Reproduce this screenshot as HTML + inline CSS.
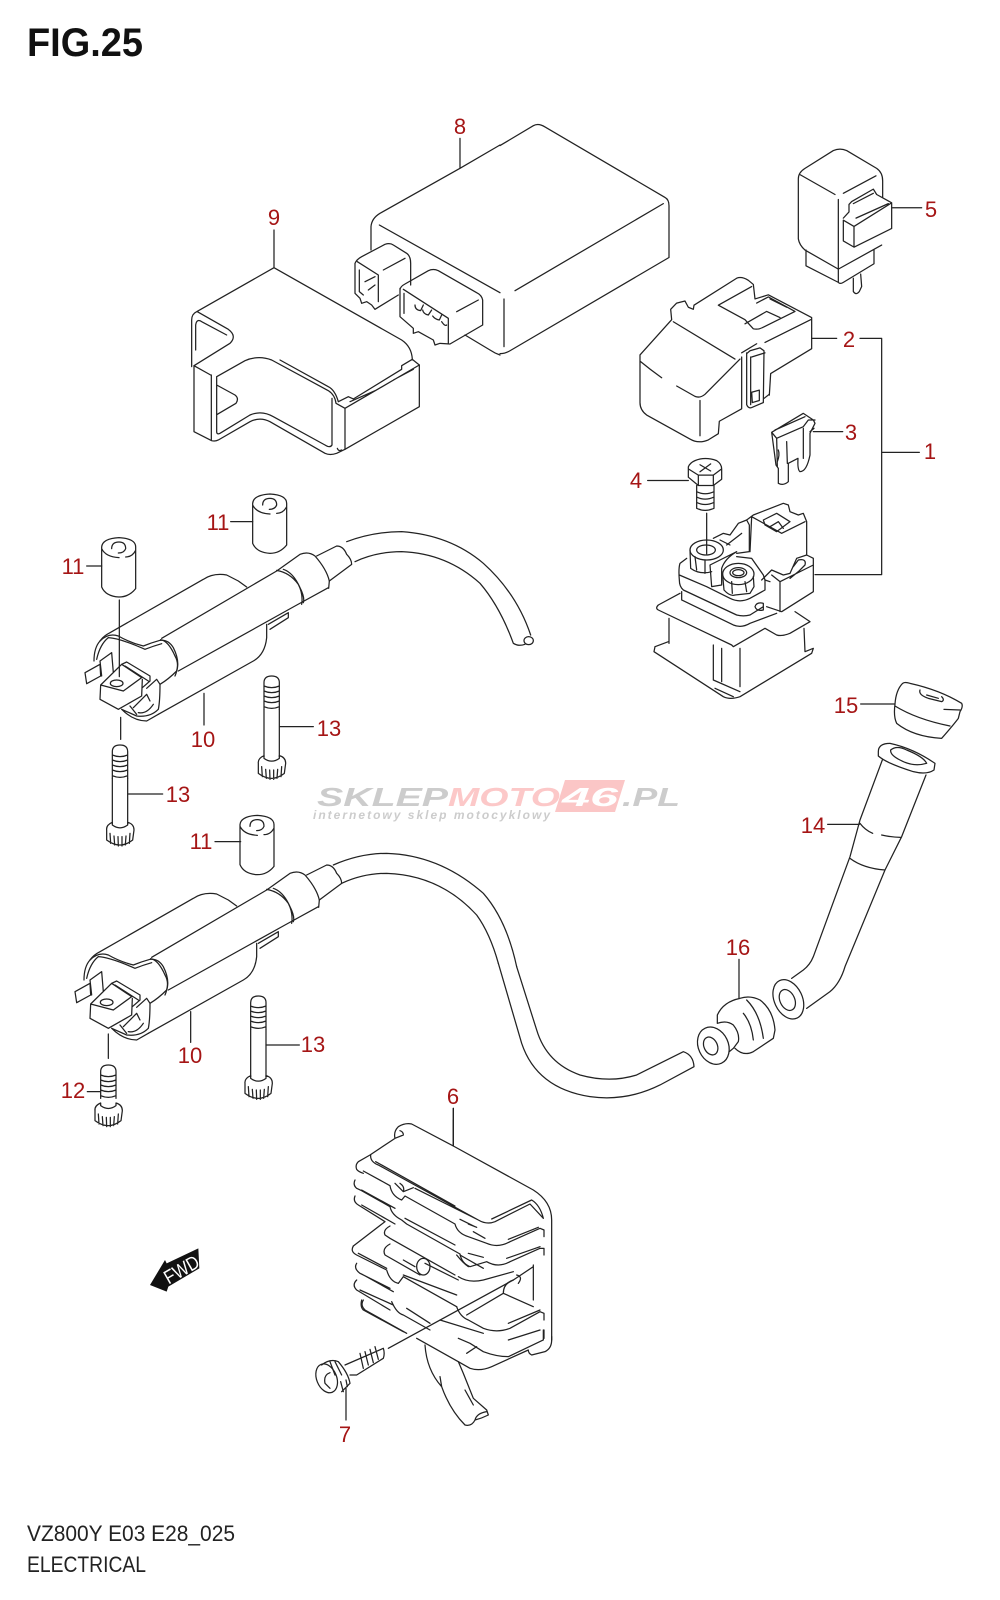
<!DOCTYPE html>
<html><head><meta charset="utf-8"><title>FIG.25</title>
<style>
html,body{margin:0;padding:0;background:#fff}
svg{display:block}
path,ellipse{fill:none;stroke:#222;stroke-width:1.25;vector-effect:non-scaling-stroke;stroke-linejoin:round;stroke-linecap:round}
.l{font:22px "Liberation Sans",sans-serif;fill:#a51515;text-anchor:middle}
</style></head><body>
<svg width="1000" height="1600" viewBox="0 0 1000 1600" xmlns="http://www.w3.org/2000/svg">
<rect width="1000" height="1600" fill="#fff"/>
<defs>
<g id="h"><path d="M-40,20 Q-42,5 -23,-3 L-23,5 Q0,22 23,5 L23,-3 Q42,2 42,20 L38,50 Q0,80 -40,50 Z M-30,30 L-28,60 M-18,38 L-16,65 M-6,40 L-5,68 M6,40 L6,68 M18,38 L16,65 M30,30 L28,60"/></g>
<g id="t"><path d="M-23,20 Q-23,0 0,0 Q23,0 23,20 L23,100 M-23,20 L-23,100 M-23,30 Q0,40 23,30 M-23,45 Q0,55 23,45 M-23,60 Q0,70 23,60 M-23,75 Q0,85 23,75 M-23,92 Q0,102 23,92"/></g>
<g id="cy"><path d="M-52,-60 Q-50,-85 0,-88 Q50,-85 50,-60 L50,65 Q30,90 0,90 Q-40,88 -52,60 Z M-52,-55 Q-40,-30 0,-28 M20,-30 Q40,-30 50,-50 M-22,-55 Q-22,-75 0,-75 Q20,-75 20,-55 Q15,-42 -2,-42"/></g>
<g id="coil">
<path d="M150,420 Q160,405 180,395 L460,235 Q490,215 530,222 L565,240 L590,258 M335,412 L680,210 L750,160 Q775,150 795,165 Q830,205 838,240 L836,262 M332,416 Q355,420 375,465 Q390,490 375,525"/>
<path d="M132,480 Q132,440 150,420 Q175,395 205,405 Q240,425 280,435 Q305,425 330,418 Q355,415 370,440 Q390,480 380,510 Q355,535 330,550 Q330,600 325,625 Q300,650 260,645 L215,625 M140,475 Q150,430 175,410 Q210,412 285,445 Q310,435 335,428 M215,625 Q250,660 290,660 L325,640"/>
<path d="M325,640 L610,480 Q645,460 650,410 L650,370 M385,510 L735,315 L835,260 M655,370 L715,335 L715,350 L660,385 M680,208 Q720,215 745,250 Q760,280 755,310 M700,205 Q730,215 750,260 Q765,290 760,305 M800,165 L860,135 Q880,135 890,160 Q905,175 905,190 L838,240"/>
<path d="M105,515 L150,490 L152,525 L110,548 Z M150,480 L185,455 L190,515 M150,480 L155,525 M152,552 L215,490 L275,530 L220,570 Z M152,552 L150,595 L205,625 L275,585 L277,535 M215,490 L230,483 L300,525 L300,540 L277,560 M225,495 L295,540 M290,562 L320,535 L330,550 M250,620 L290,580 L300,600 M265,635 Q290,640 310,610 M240,615 L260,640"/>
<ellipse cx="200" cy="547" rx="19" ry="10"/>
</g>
</defs>

<text x="27" y="56" font-family="Liberation Sans,sans-serif" font-weight="bold" font-size="40" fill="#111" textLength="116" lengthAdjust="spacingAndGlyphs">FIG.25</text>
<text x="27" y="1541" font-family="Liberation Sans,sans-serif" font-size="22" fill="#222" textLength="208" lengthAdjust="spacingAndGlyphs">VZ800Y E03 E28_025</text>
<text x="27" y="1572" font-family="Liberation Sans,sans-serif" font-size="22" fill="#222" textLength="119" lengthAdjust="spacingAndGlyphs">ELECTRICAL</text>

<!-- watermark -->
<g font-family="Liberation Sans,sans-serif" font-weight="bold" font-style="italic" font-size="26">
<polygon points="565,780 625,780 615,812 555,812" fill="#fbc6c6"/>
<text x="317" y="806" fill="#ccc" textLength="131" lengthAdjust="spacingAndGlyphs">SKLEP</text>
<text x="448" y="806" fill="#fcc8c8" textLength="112" lengthAdjust="spacingAndGlyphs">MOTO</text>
<text x="562" y="806" fill="#fff" textLength="56" lengthAdjust="spacingAndGlyphs">46</text>
<text x="622" y="806" fill="#ccc" textLength="58" lengthAdjust="spacingAndGlyphs">.PL</text>
<text x="313" y="819" font-size="12" fill="#ccc" textLength="237">internetowy sklep motocyklowy</text>
</g>

<!-- Z1: parts 9 and 8 left -->
<g transform="scale(.33333)">
<path d="M822,690 L822,803 L590,935 Q575,942 575,960 L575,1100 M822,803 L1205,1020 Q1235,1040 1237,1078"/>
<path d="M592,935 L685,988 Q712,1008 690,1030 L582,1097 L632,1125 M587,1050 L587,975 Q590,955 605,965 L680,1005"/>
<path d="M582,1097 L582,1295 L635,1322 Q645,1325 655,1320 L750,1265 Q780,1250 810,1265 L975,1360 Q990,1367 1010,1360 L1035,1348 L1258,1220 L1258,1095 L1237,1078 L1205,1097 L1205,1108 L1060,1197 L1045,1190 L1015,1205 Q1005,1170 985,1160 L840,1080"/>
<path d="M650,1130 L735,1082 Q775,1065 815,1080 L985,1172 Q1005,1185 1008,1210 L1035,1225 L1258,1095 M1035,1225 L1035,1348 M996,1195 L996,1335 Q990,1345 975,1335 L820,1250 Q785,1230 750,1245 L660,1300 Q650,1305 650,1295 L650,1130 M634,1125 L634,1320 M650,1155 L705,1185 Q718,1195 708,1210 L652,1243 M1180,1140 L1240,1108 M1050,1205 L1125,1172 M1012,1345 Q1015,1355 1025,1350"/>
<path d="M1113,750 L1113,680 Q1115,655 1140,640 L1380,505 L1500,435 M1380,415 L1380,505 M1138,675 L1500,878 M1395,1005 L1470,1050 Q1485,1060 1500,1065"/>
<path d="M1065,790 L1065,880 L1080,895 L1085,910 L1100,905 L1115,915 L1125,928 L1195,885 M1065,790 Q1070,778 1085,770 L1155,733 Q1170,728 1180,735 L1220,760 Q1232,768 1232,790 L1232,855 M1072,785 L1135,825 L1135,905 M1150,810 L1215,775 M1078,810 L1078,875 L1090,885 M1095,845 L1125,830 M1105,870 L1125,855"/>
<path d="M1200,865 L1200,950 L1240,985 L1240,1000 L1255,995 L1300,1020 L1305,1035 L1320,1030 L1350,1032 L1448,975 L1448,900 Q1445,885 1430,878 L1315,812 Q1300,805 1285,812 L1215,852 Q1200,860 1200,870 M1210,868 L1345,955 L1345,1030 M1212,880 L1212,940 M1370,935 L1435,900 M1245,915 Q1245,930 1262,932 L1270,915 M1268,930 Q1270,942 1285,945 L1295,930 M1298,948 Q1305,958 1318,960 L1325,945 M1325,965 Q1335,980 1340,975"/>
</g>

<!-- Z2 -->
<g transform="translate(500,100) scale(.33333,.4145)">
<path d="M0,110 L100,62 Q115,55 135,65 L495,235 Q507,240 507,255 L507,380 L30,605 Q15,612 0,612 M45,460 L490,250 M12,480 L12,595"/>
<!-- 5 -->
<path d="M895,190 Q895,175 915,165 L1000,122 Q1020,115 1040,122 L1130,165 Q1148,175 1148,195 L1148,235 M895,190 L895,335 Q898,350 915,362 L1015,408 M900,180 L1005,228 M1030,225 L1128,183 M1015,240 L1015,405 M1015,408 L1145,350 M918,362 L918,400 L1015,440 Q1020,445 1030,440 L1122,395 L1122,360 M1015,440 L1015,405"/>
<path d="M1030,290 L1030,340 L1062,355 L1175,310 L1175,248 L1130,228 L1120,215 L1055,245 L1047,252 L1047,270 L1030,285 M1030,290 L1062,305 L1062,355 M1062,305 L1175,248 M1060,250 L1120,225 M1068,285 L1165,250 M1060,430 L1060,462 Q1068,472 1078,462 L1085,450 L1082,420 M1178,260 L1265,260"/>
<!-- 2 -->
<path d="M420,615 L515,530 L512,505 L530,490 L555,485 L565,500 L580,505 L582,495 L710,430 Q725,425 745,435 L760,445 L765,480 L805,470 L935,525 L935,600 L812,660 L808,712 M420,615 L420,730 Q420,748 440,760 L570,818 Q595,830 625,820 L655,805 L658,775 L725,745 L725,620 M520,535 L705,625 M420,630 Q450,650 485,670 M530,690 L585,715 Q600,720 615,710 L720,625 M600,725 L600,810"/>
<path d="M655,495 L735,530 L760,552 Q775,555 790,548 L885,510 L805,475 L770,490 M655,495 L755,450 M735,540 L800,510 L840,525 M810,480 L860,500 M795,585 L932,530 M770,588 L725,610"/>
<path d="M740,610 L740,735 Q745,745 755,742 L790,730 L792,605 L780,598 L750,605 L740,612 M752,620 L752,735 M755,620 L795,610 M755,705 L778,700 L778,725 L757,730 Z M808,710 L792,720"/>
<path d="M935,575 L1010,575 M1080,575 L1145,575 L1145,1145 L945,1145 M1148,850 L1258,850"/>
<!-- 4 -->
<path d="M565,885 Q570,875 585,870 Q615,860 650,870 Q665,878 665,890 L665,915 L640,930 L595,930 L565,910 Z M565,890 L595,905 L640,905 L665,890 M595,905 L595,930 M640,905 L640,930 M600,880 L632,895 M632,878 L600,897 M590,930 L590,985 Q615,995 642,985 L642,930 M590,945 Q615,955 642,945 M590,958 Q615,968 642,958 M590,971 Q615,981 642,971 M443,918 L565,918 M620,997 L620,1095"/>
<path d="M940,800 L1028,800"/>
</g>

<!-- fuse -->
<g transform="translate(640,400) scale(.33333)">
<path d="M395,97 L490,40 L520,60 L525,70 L510,100 L510,165 Q500,215 480,215 Q472,210 474,175 L445,190 L445,245 Q430,258 415,250 L415,205 L408,195 L395,97 M395,97 L410,115 L490,80 L505,60 L525,60 M410,115 L412,200 M440,125 L442,190 M490,85 L490,175 M405,90 L495,50 M415,150 Q420,165 412,185 M510,95 L522,85"/>
</g>

<!-- solenoid -->
<g transform="translate(650,500) scale(.33333)">
<path d="M25,315 L90,280 M25,315 Q15,325 25,330 L245,435 L250,440 L345,385 L380,405 Q395,410 420,400 L480,365 L435,335 M57,355 L57,430 M15,440 L55,425 M15,440 L12,455 L220,590 Q240,600 270,590 L485,460 L490,445 L465,455 L462,385 M190,435 L190,540 M215,445 L215,545 M270,445 L270,560 M190,540 L270,575 M195,565 L250,590"/>
<path d="M110,175 L90,190 Q85,205 88,240 Q88,260 100,270 L260,345 Q280,350 300,345 L340,320 M95,275 L95,300 L250,375 Q275,385 300,370 L380,340 M88,225 L170,260 L240,295 Q270,310 300,295 L345,270 L345,240 L340,225 L305,175 L260,170 M315,320 Q320,305 340,310 L340,330 Q320,335 315,320 Z"/>
<ellipse cx="170" cy="150" rx="50" ry="30"/><ellipse cx="168" cy="150" rx="28" ry="15"/>
<path d="M120,150 L122,205 Q150,225 185,215 M135,170 L140,210 M165,180 L165,220"/>
<path d="M180,195 L185,260 L215,255 M180,195 L260,155 Q225,175 215,205 L215,255 M190,115 L220,100 L240,105 L265,70 L290,60 L298,75 L298,155 L260,160 M230,135 L275,100 M210,120 L240,135"/>
<ellipse cx="265" cy="222" rx="47" ry="32"/><ellipse cx="265" cy="218" rx="25" ry="15"/><ellipse cx="265" cy="218" rx="17" ry="9"/>
<path d="M218,225 L222,270 Q240,290 255,285 L300,280 L312,260 L310,230 M245,245 L247,280 M285,245 L290,275"/>
<path d="M290,60 L310,45 L400,10 L415,15 L420,35 L445,45 L460,40 L470,65 L470,165 M305,50 L395,100 L465,65 M305,50 L300,155 M340,60 L380,40 L420,65 L380,95 L345,75 Z M360,80 L385,65 L400,85"/>
<path d="M335,240 L365,210 L400,225 L420,220 L440,175 L470,165 L490,175 L490,275 L395,335 L350,320 M365,225 L390,245 L490,195 M390,245 L390,335 M420,235 L445,215 L465,195 Q470,175 445,180 L430,200 M345,240 L360,245"/>
</g>

<!-- Z3 -->
<g transform="translate(40,480) scale(.33333)">
<path d="M920,185 Q1000,155 1085,155 Q1230,165 1330,250 Q1430,340 1472,465 M945,245 Q1010,215 1085,215 Q1220,220 1320,310 Q1380,380 1420,490 Q1435,500 1455,493"/>
<ellipse cx="1466" cy="482" rx="14" ry="12"/>
<path d="M572,125 L638,125 M140,258 L185,258 M525,1085 L602,1085 M238,360 L238,590 M242,712 L242,778 M492,640 L492,735 M720,740 L820,740 M265,942 L368,942"/>
<use href="#cy" transform="translate(690,130)"/>
<use href="#cy" transform="translate(237,261)"/>
<use href="#cy" transform="translate(652,1094)"/>
<use href="#t" transform="translate(695,588)"/>
<path d="M672,688 L672,830 M718,688 L718,830"/>
<use href="#h" transform="translate(695,830)"/>
<use href="#t" transform="translate(240,795)"/>
<path d="M217,895 L217,1030 M263,895 L263,1030"/>
<use href="#h" transform="translate(240,1030)"/>
</g>

<!-- coils -->
<g transform="translate(50,501) scale(.33333)"><use href="#coil"/></g>
<g transform="translate(40,820) scale(.33333)">
<use href="#coil"/>
<path d="M880,135 Q960,100 1040,100 Q1200,105 1330,220 Q1400,300 1430,440 M905,190 Q970,160 1040,160 Q1200,165 1310,285 Q1350,340 1375,430"/>
<path d="M205,642 L205,715 M452,575 L452,667 M678,675 L778,675 M142,815 L182,815 M1240,865 L1240,978"/>
<use href="#t" transform="translate(655,528)"/>
<path d="M632,628 L632,770 M678,628 L678,770"/>
<use href="#h" transform="translate(655,770)"/>
<use href="#t" transform="translate(205,735)"/>
<use href="#h" transform="translate(205,852)"/>
</g>

<!-- Z5 -->
<g transform="translate(480,680) scale(.33333)">
<path d="M110,860 L170,1050 Q200,1150 300,1185 Q390,1210 470,1185 L610,1115 Q640,1125 642,1160 L540,1215 Q440,1265 330,1250 Q170,1225 125,1090 L55,850"/>
<path d="M1245,72 Q1248,30 1268,10 Q1275,5 1290,10 Q1380,30 1445,70 Q1450,80 1440,95 L1435,115 Q1420,135 1385,175 Q1300,170 1250,130 Q1240,110 1245,72 M1245,78 Q1310,118 1410,138 M1440,90 L1392,88 M1320,30 Q1315,45 1345,55 L1385,65 Q1395,60 1385,50 M1340,45 L1375,55 M1142,72 L1245,72"/>
<path d="M1195,215 Q1195,190 1230,190 Q1300,205 1365,250 L1362,270 Q1340,285 1300,275 Q1220,250 1195,228 Z M1232,210 Q1250,195 1280,210 Q1330,230 1340,250 Q1300,262 1260,240 Q1230,225 1232,210 M1207,240 L1140,420 L1110,530 L1000,830 Q990,855 970,870 L935,895 M1338,285 L1265,470 L1215,570 L1095,860 Q1080,910 1050,935 L980,985 M1140,430 Q1155,450 1178,460 M1205,465 Q1235,472 1262,472 M1110,535 Q1150,565 1215,570 M1043,433 L1138,433"/>
<ellipse cx="925" cy="958" rx="42" ry="62" transform="rotate(-25 925 958)"/>
<ellipse cx="922" cy="960" rx="22" ry="33" transform="rotate(-25 922 960)"/>
<path d="M712,1030 L712,1005 Q730,965 780,955 Q810,945 840,960 Q880,990 885,1050 L880,1075 L820,1115 Q790,1130 765,1105 M800,960 Q840,1000 850,1075 M790,1000 Q815,1030 820,1080 M712,1030 Q740,1020 760,1035 Q780,1060 775,1085 L760,1105 L748,1115 M777,838 L777,955"/>
<ellipse cx="700" cy="1097" rx="45" ry="58" transform="rotate(-25 700 1097)"/>
<ellipse cx="692" cy="1098" rx="20" ry="28" transform="rotate(-25 692 1098)"/>
</g>

<!-- regulator upper (crop frame) -->
<g transform="translate(340,1120) scale(.33333)">
<path d="M340,0 L340,78 L215,12 Q195,8 175,20 Q160,35 165,55 L190,45 Q190,35 180,32 M165,55 L90,105 L55,125 Q45,135 50,148 Q55,155 70,160 M340,78 L580,210 Q635,245 635,300 L635,660"/>
<path d="M92,105 Q90,125 115,135 L415,300 Q440,315 465,305 L570,252 L610,295 M455,297 L575,240 Q600,255 610,295 M107,125 L345,258 M225,205 L415,300"/>
<path d="M70,153 L150,197 Q155,228 185,240 L195,228 L345,312 Q352,340 385,350 L440,370 Q475,385 510,365 L600,325 L612,330 L612,350 M505,358 L595,322 M165,190 L190,215 L220,203 M180,190 Q195,200 190,215 M360,298 L405,320 M385,312 L410,322 M400,335 L435,355"/>
<path d="M45,180 Q38,195 50,205 L65,212 L150,260 Q155,285 185,300 L200,312 L360,402 Q365,430 390,440 L440,425 Q475,445 510,425 L600,385 L612,385 L612,405 M500,415 L600,380 M65,210 L165,265 M195,295 L345,375 M385,400 L430,412"/>
<path d="M45,228 Q38,245 55,255 L135,305 L40,378 M65,255 L165,312"/>
<path d="M150,318 Q128,330 135,345 L150,355 L345,465 M150,372 Q125,385 135,405 L240,465 M255,430 L355,480 M355,470 Q385,490 430,480 L520,455 M360,405 L430,445 M350,405 Q370,430 385,440"/>
<ellipse cx="250" cy="440" rx="20" ry="25"/>
<path d="M40,378 Q30,395 50,405 L140,450 Q150,485 175,490 L190,470 L350,560 M55,400 L140,445 M190,465 L350,525 M190,420 L225,440 M50,430 Q40,445 60,460 L150,505 M65,462 L160,515 M50,480 Q35,495 50,510 L150,570 M60,510 L160,555 M155,545 Q170,580 190,585 L270,630 M200,565 L270,610 M70,540 Q60,555 75,570 L200,640"/>
<path d="M580,435 L580,540 M490,520 Q490,490 520,480 M580,560 L490,520 M380,585 L490,520 M520,480 L580,440 M530,465 Q550,470 535,490 M350,560 Q360,590 385,600 L430,625 Q470,640 510,625 L600,575 L612,580 L612,600 M505,610 L600,570 M300,600 L430,640 M612,630 L612,655 M505,660 L600,630"/>
</g>

<!-- Z6 lower -->
<g transform="translate(130,1090) scale(.33333)">
<path d="M970,55 L970,165"/>
<path d="M1265,740 L1265,750 Q1265,775 1245,785 L1205,795 Q1195,790 1195,780 L1085,830 Q1050,845 1020,835 L985,815 L860,745 M1240,720 L1240,750 L1135,800 Q1100,800 1060,785 L1020,760 L985,745 M1040,770 L1010,790 M695,630 Q690,650 700,660 L820,725"/>
<path d="M775,775 L1150,570"/>
<path d="M885,765 Q890,840 935,890 Q960,960 1005,1005 Q1025,1010 1035,990 Q1055,985 1075,975 L1070,960 L1030,925 L1000,850 L985,815 M1035,990 Q1040,970 1070,965 M930,860 L935,890 M1005,900 L1030,945"/>
<ellipse cx="590" cy="865" rx="30" ry="45" transform="rotate(-22 590 865)"/>
<path d="M575,825 Q600,805 625,815 Q655,850 660,880 L635,905 M645,825 L760,775 Q765,790 760,805 L680,855 L660,855 M690,790 L700,835 M705,785 L715,825 M720,778 L730,818 M735,770 L745,808 M600,815 L615,855 M615,815 L635,855 M632,875 L640,905 M648,870 L652,890 M600,848 Q580,855 585,880 L600,895 M648,895 L648,990"/>
<polygon points="60,585 105,510 110,520 205,475 208,535 115,590 110,605" fill="#111"/>
<text x="0" y="0" font-family="Liberation Sans,sans-serif" font-size="58" fill="#fff" transform="translate(116,584) rotate(-30) scale(.85,1)">FWD</text>
</g>

<!-- labels -->
<g>
<text class="l" x="460" y="134">8</text>
<text class="l" x="274" y="225">9</text>
<text class="l" x="931" y="217">5</text>
<text class="l" x="849" y="347">2</text>
<text class="l" x="851" y="440">3</text>
<text class="l" x="930" y="459">1</text>
<text class="l" x="636" y="488">4</text>
<text class="l" x="846" y="713">15</text>
<text class="l" x="813" y="833">14</text>
<text class="l" x="738" y="955">16</text>
<text class="l" x="218" y="530">11</text>
<text class="l" x="73" y="574">11</text>
<text class="l" x="201" y="849">11</text>
<text class="l" x="203" y="747">10</text>
<text class="l" x="329" y="736">13</text>
<text class="l" x="178" y="802">13</text>
<text class="l" x="313" y="1052">13</text>
<text class="l" x="190" y="1063">10</text>
<text class="l" x="73" y="1098">12</text>
<text class="l" x="453" y="1104">6</text>
<text class="l" x="345" y="1442">7</text>
</g>
</svg>
</body></html>
